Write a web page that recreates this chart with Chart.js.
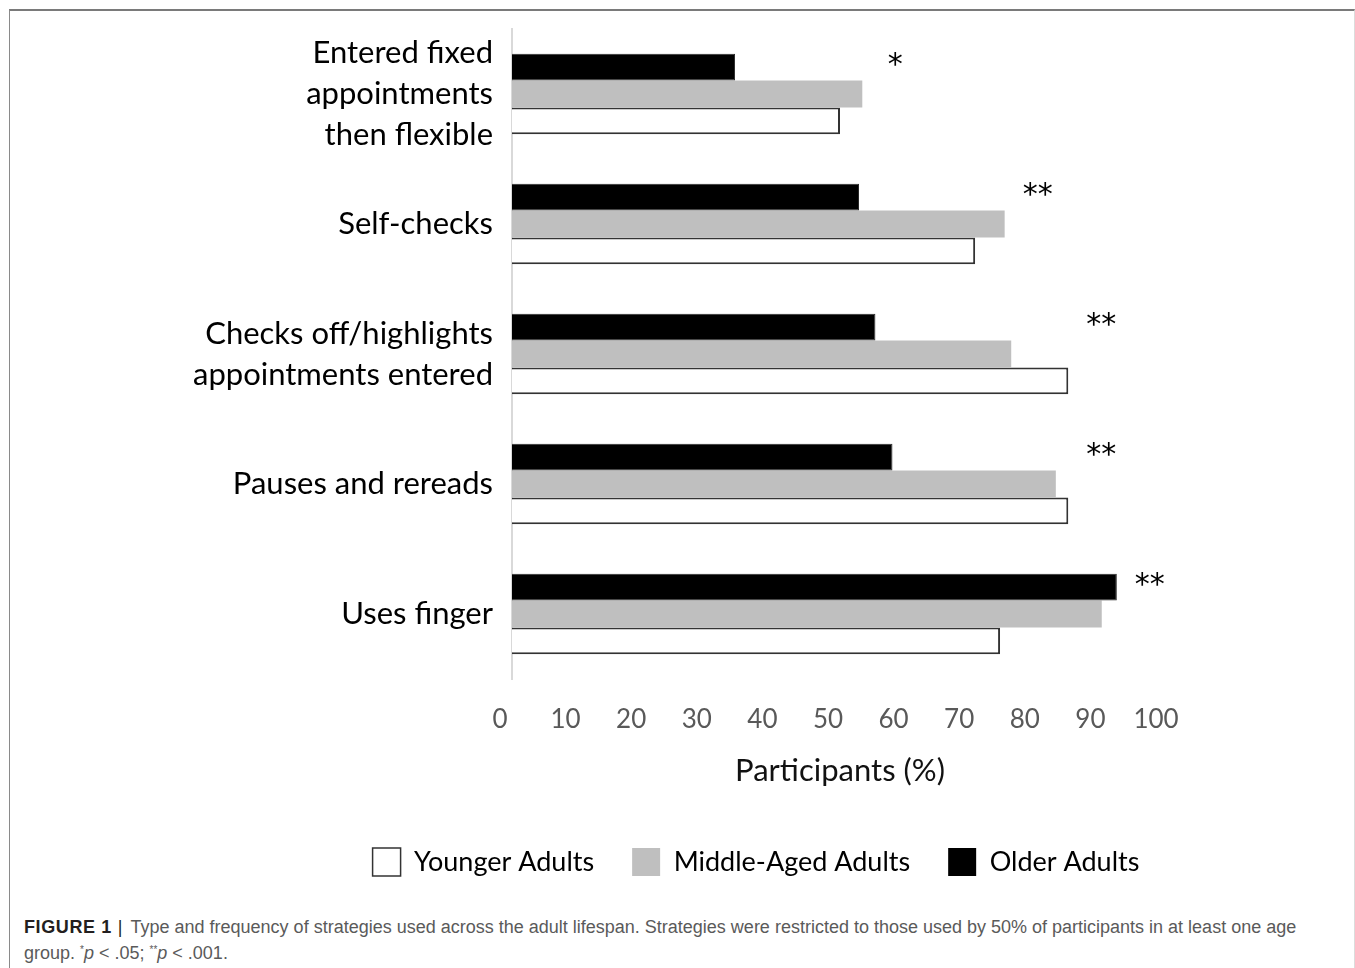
<!DOCTYPE html>
<html>
<head>
<meta charset="utf-8">
<script src="https://cdn.jsdelivr.net/npm/chart.js@4/dist/chart.umd.min.js"></script>
<style>
  html, body { margin: 0; padding: 0; background: #ffffff; }
  body { width: 1355px; height: 968px; position: relative; overflow: hidden; }
  #frame {
    position: absolute; left: 9px; top: 9px; width: 1344px; height: 1000px;
    border-top: 2px solid #7a7a7a; border-left: 1px solid #8a8a8a; border-right: 1px solid #dcdcdc;
  }
  #wrap { position: absolute; left: 157px; top: 0; width: 1198px; height: 886px; }
  #caption {
    position: absolute; left: 24px; top: 914px;
    font-family: "Liberation Sans", Arial, sans-serif; font-size: 18px; line-height: 26px;
    color: #5a5a5a; white-space: nowrap;
  }
  #caption b { color: #231f20; letter-spacing: 0.6px; }
  #caption .bar { color: #231f20; margin: 0 8px 0 6px; }
  #caption sup { font-size: 10px; vertical-align: 6px; line-height: 0; }
</style>
</head>
<body>
<div id="frame"></div>
<div id="wrap"><canvas id="chart" width="1198" height="886"></canvas></div>
<div id="caption"><b>FIGURE 1</b><span class="bar">|</span>Type and frequency of strategies used across the adult lifespan. Strategies were restricted to those used by 50% of participants in at least one age<br>group. <sup>*</sup><i>p</i> &lt; .05; <sup>**</sup><i>p</i> &lt; .001.</div>
<script>
// Strategy categories (top to bottom)
const strategies = [
  ['Entered fixed', 'appointments', 'then flexible'],
  'Self-checks',
  ['Checks off/highlights', 'appointments entered'],
  'Pauses and rereads',
  'Uses finger'
];

// Percentage of participants using each strategy, by age group
const olderAdults  = [34.0, 52.9, 55.4, 58.0, 92.2];
const middleAdults = [53.4, 75.1, 76.1, 82.9, 89.9];
const youngerAdults = [50.0, 70.6, 84.8, 84.8, 74.4];

// Significance markers for the age-group comparison
const significance = ['*', '**', '**', '**', '**'];

// Value axis ticks
const xTicks = [0, 10, 20, 30, 40, 50, 60, 70, 80, 90, 100];

const FONT = 'Lato, "Open Sans", sans-serif';

// Draws the significance stars just past the longest bar of each group
const starPlugin = {
  id: 'sigStars',
  afterDatasetsDraw(chart) {
    const { ctx, scales } = chart;
    const topMeta = chart.getDatasetMeta(0);
    ctx.save();
    ctx.fillStyle = '#000';
    ctx.font = '30px "DejaVu Sans", sans-serif';
    ctx.textAlign = 'center';
    ctx.textBaseline = 'middle';
    significance.forEach((s, i) => {
      const maxVal = Math.max(olderAdults[i], middleAdults[i], youngerAdults[i]);
      const x = scales.x.getPixelForValue(maxVal) + 33;
      const y = topMeta.data[i].y - 1;
      ctx.fillText(s, x, y);
    });
    ctx.restore();
  }
};

new Chart(document.getElementById('chart'), {
  type: 'bar',
  data: {
    labels: strategies,
    datasets: [
      { label: 'Older Adults', data: olderAdults, backgroundColor: '#000000', borderColor: '#2a2a2a', borderWidth: 1 },
      { label: 'Middle-Aged Adults', data: middleAdults, backgroundColor: '#bfbfbf', borderColor: '#bfbfbf', borderWidth: 0 },
      { label: 'Younger Adults', data: youngerAdults, backgroundColor: '#ffffff', borderColor: '#333333', borderWidth: 2 }
    ]
  },
  options: {
    indexAxis: 'y',
    responsive: false,
    animation: false,
    devicePixelRatio: 1,
    layout: { padding: { top: 29, right: 0, left: 0, bottom: 0 } },
    datasets: { bar: { categoryPercentage: 0.62, barPercentage: 1.0 } },
    scales: {
      x: {
        min: 0, max: 100,
        afterBuildTicks(scale) { scale.ticks = xTicks.map(v => ({ value: v })); },
        afterFit(scale) { scale.height = 131; scale.paddingRight = 187; },
        grid: { display: false, drawTicks: false },
        border: { display: false },
        ticks: {
          color: '#595959', padding: 25, labelOffset: -12,
          font: { family: FONT, size: 26 },
          maxRotation: 0, autoSkip: false
        },
        title: {
          display: true, text: 'Participants (%)', color: '#111',
          font: { family: FONT, size: 31 },
          padding: { top: 0, bottom: 20 }
        }
      },
      y: {
        afterFit(scale) { scale.width = 355; scale.paddingTop = 0; scale.paddingBottom = 0; },
        grid: { display: false, drawTicks: false },
        border: { display: true, color: '#d9d9d9', width: 2 },
        ticks: {
          color: '#000', padding: 19, autoSkip: false,
          font: { family: FONT, size: 31, lineHeight: '41px' }
        }
      }
    },
    plugins: {
      tooltip: { enabled: false },
      legend: {
        position: 'bottom',
        reverse: true,
        labels: {
          boxWidth: 28, boxHeight: 28, padding: 38, color: '#000',
          font: { family: FONT, size: 27 },
          generateLabels(chart) {
            return chart.data.datasets.map((ds, i) => ({
              text: ds.label,
              fillStyle: ds.backgroundColor,
              strokeStyle: i === 2 ? '#333333' : ds.backgroundColor,
              lineWidth: i === 2 ? 1.5 : 0,
              datasetIndex: i,
              hidden: false
            }));
          }
        }
      }
    }
  },
  plugins: [starPlugin]
});
</script>
</body>
</html>
